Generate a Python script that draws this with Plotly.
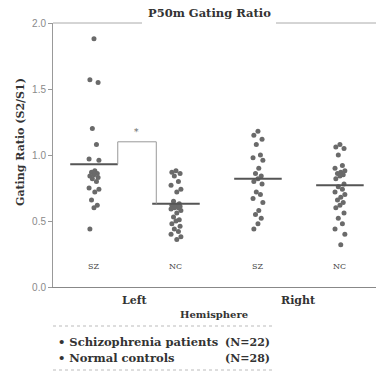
import plotly.graph_objects as go

# ---- data ----
group_labels = ["SZ", "NC", "SZ", "NC"]
hemispheres = ["Left", "Right"]
sz_left = [1.88, 1.57, 1.55, 1.20, 1.08, 0.97, 0.96, 0.88, 0.87, 0.86, 0.85,
           0.84, 0.83, 0.82, 0.80, 0.75, 0.74, 0.72, 0.66, 0.62, 0.60, 0.44]
nc_left = [0.88, 0.87, 0.86, 0.84, 0.80, 0.77, 0.74, 0.72, 0.65, 0.63, 0.62,
           0.62, 0.61, 0.60, 0.60, 0.59, 0.58, 0.56, 0.53, 0.51, 0.50, 0.48,
           0.46, 0.44, 0.42, 0.40, 0.38, 0.36]
sz_right = [1.18, 1.15, 1.12, 1.08, 1.00, 0.98, 0.96, 0.90, 0.86, 0.84, 0.82,
            0.80, 0.78, 0.72, 0.70, 0.67, 0.64, 0.58, 0.55, 0.52, 0.48, 0.44]
nc_right = [1.08, 1.06, 1.05, 1.00, 0.92, 0.90, 0.88, 0.87, 0.86, 0.85, 0.84,
            0.82, 0.78, 0.76, 0.74, 0.72, 0.70, 0.68, 0.66, 0.64, 0.62, 0.60,
            0.56, 0.52, 0.48, 0.44, 0.40, 0.32]
group_means = [0.93, 0.63, 0.82, 0.77]
bracket_level = 1.10
y_ticks = [0.0, 0.5, 1.0, 1.5, 2.0]
legend_names = ["Schizophrenia patients", "Normal controls"]
legend_counts = ["(N=22)", "(N=28)"]
title = "P50m Gating Ratio"
y_title = "Gating Ratio (S2/S1)"
x_title = "Hemisphere"

groups = [sz_left, nc_left, sz_right, nc_right]
jit = [0.0, -0.05, 0.05, -0.02, 0.03, -0.06, 0.06, 0.01, -0.03, 0.04]

DOT = "#6a6a6a"
LINE = "#555555"
TXT = "#333333"
SERIF = "DejaVu Serif"

fig = go.Figure()

for gi, vals in enumerate(groups):
    xs = [gi + jit[i % len(jit)] for i in range(len(vals))]
    fig.add_trace(go.Scatter(x=xs, y=vals, mode="markers",
                             marker=dict(size=5, color=DOT),
                             showlegend=False, hoverinfo="y"))

# mean lines
hw = 0.29
mx, my = [], []
for gi, m in enumerate(group_means):
    mx += [gi - hw, gi + hw, None]
    my += [m, m, None]
fig.add_trace(go.Scatter(x=mx, y=my, mode="lines",
                         line=dict(color=LINE, width=2), showlegend=False,
                         hoverinfo="skip"))

# significance bracket
fig.add_trace(go.Scatter(x=[hw, hw, 1 - 0.24, 1 - 0.24],
                         y=[group_means[0], bracket_level, bracket_level, group_means[1]],
                         mode="lines", line=dict(color="#999999", width=1),
                         showlegend=False, hoverinfo="skip"))
fig.add_annotation(x=0.52, y=bracket_level + 0.02, text="*", showarrow=False,
                   font=dict(family=SERIF, size=9, color="#666666"), yanchor="bottom")

# group labels inside plot
for gi, lab in enumerate(group_labels):
    fig.add_annotation(x=gi, y=0.155, text=lab, showarrow=False,
                       font=dict(family=SERIF, size=8, color="#444444"))

L, T, B = 53, 23, 85
W, H = 376, 372
pw, ph = W - L, H - T - B


def px(x):
    return (x - L) / pw


def py(y):
    return (H - B - y) / ph


# hemisphere labels
for hi, h in enumerate(hemispheres):
    fig.add_annotation(x=2 * hi + 0.5, xref="x", y=py(300), yref="paper",
                       xanchor="center", yanchor="middle",
                       text="<b>%s</b>" % h, showarrow=False,
                       font=dict(family=SERIF, size=11, color=TXT))
fig.add_annotation(x=px(214), y=py(314), xref="paper", yref="paper",
                   xanchor="center", yanchor="middle",
                   text="<b>%s</b>" % x_title, showarrow=False,
                   font=dict(family=SERIF, size=10, color=TXT))
fig.add_annotation(x=px(20), y=py(142), xref="paper", yref="paper",
                   xanchor="center", yanchor="middle",
                   text="<b>%s</b>" % y_title, showarrow=False, textangle=-90,
                   font=dict(family=SERIF, size=11, color=TXT))
fig.add_annotation(x=px(209), y=py(13), xref="paper", yref="paper",
                   xanchor="center", yanchor="middle",
                   text="<b>%s</b>" % title, showarrow=False,
                   font=dict(family=SERIF, size=11.5, color=TXT))

# legend (drawn as text)
for i, (nm, cnt) in enumerate(zip(legend_names, legend_counts)):
    yy = py(342 + 16 * i)
    fig.add_annotation(x=px(56), y=yy, xref="paper", yref="paper", xanchor="left",
                       yanchor="middle",
                       text="<b>• %s</b>" % nm, showarrow=False,
                       font=dict(family=SERIF, size=11.5, color=TXT))
    fig.add_annotation(x=px(272), y=yy, xref="paper", yref="paper", xanchor="right",
                       yanchor="middle",
                       text="<b>%s</b>" % cnt, showarrow=False,
                       font=dict(family=SERIF, size=11, color=TXT))
for yl in (326, 370):
    fig.add_shape(type="line", xref="paper", yref="paper", x0=px(53), x1=px(275),
                  y0=py(yl), y1=py(yl), line=dict(color="#bbbbbb", width=1, dash="dot"))

# top frame segments (broken under the title)
for a, b in ((53, 142), (276, W)):
    fig.add_shape(type="line", xref="paper", yref="paper", x0=px(a), x1=px(b),
                  y0=1, y1=1, line=dict(color="#aaaaaa", width=1))

fig.update_layout(
    width=W, height=H, margin=dict(l=L, r=0, t=T, b=B),
    plot_bgcolor="white", paper_bgcolor="white", showlegend=False,
    xaxis=dict(range=[-0.5, 3.44], showgrid=False, zeroline=False,
               showticklabels=False, ticks="", showline=True,
               linecolor="#888888", linewidth=1, fixedrange=True),
    yaxis=dict(range=[0, 2], tickvals=y_ticks, tickformat=".1f",
               showgrid=False, zeroline=False, showline=True,
               linecolor="#999999", linewidth=1, ticks="outside",
               ticklen=4, tickcolor="#999999",
               tickfont=dict(family="Liberation Sans", size=10, color="#8a8a8a"),
               fixedrange=True),
)

fig.write_html("out.html")
